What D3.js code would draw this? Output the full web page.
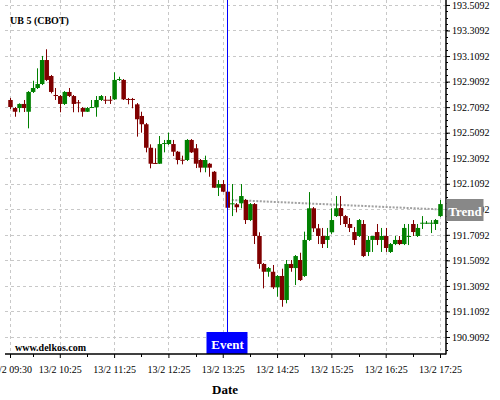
<!DOCTYPE html>
<html><head><meta charset="utf-8">
<script src="https://cdn.jsdelivr.net/npm/d3@7"></script>
<style>body{margin:0;background:#fff}svg{display:block}</style>
</head><body><svg id="c" width="500" height="400"></svg>
<script>
const title = "UB 5 (CBOT)";
const watermark = "www.delkos.com";
const axisTitle = "Date";
const dayPrefix = "13/2";
const startTime = "2024-02-13T09:30";
const barMinutes = 5;

const opens = [192.765,192.702,192.702,192.734,192.673,192.828,192.859,192.890,193.078,192.953,
192.804,192.796,192.734,192.828,192.796,192.747,192.702,192.673,192.705,192.708,
192.765,192.767,192.767,192.770,192.922,192.922,192.773,192.773,192.731,192.640,
192.575,192.391,192.272,192.266,192.423,192.420,192.420,192.360,192.297,192.295,
192.452,192.387,192.295,192.235,192.266,192.203,192.078,192.107,192.047,191.953,
191.948,191.956,191.982,191.825,191.950,191.700,191.481,191.420,191.420,191.298,
191.387,191.199,191.481,191.449,191.512,191.387,191.669,191.917,191.760,191.700,
191.669,191.729,191.856,191.919,191.856,191.794,191.731,191.700,191.794,191.575,
191.669,191.731,191.669,191.700,191.575,191.637,191.669,191.637,191.698,191.794,
191.700,191.799,191.802,191.802,191.794,191.856];
const highs = [192.781,192.710,192.739,192.765,192.835,192.916,193.013,193.110,193.162,192.961,
192.859,192.804,192.835,192.859,192.804,192.765,192.710,192.710,192.765,192.796,
192.804,192.796,192.796,192.982,192.947,192.929,192.781,192.781,192.741,192.673,
192.585,192.418,192.387,192.483,192.452,192.509,192.452,192.366,192.329,192.459,
192.459,192.420,192.303,192.329,192.272,192.209,192.138,192.138,192.052,192.107,
191.958,192.107,191.990,191.958,191.958,191.729,191.488,191.457,191.473,191.394,
191.444,191.512,191.512,191.551,191.569,191.734,192.044,191.927,191.794,191.763,
191.763,191.917,192.013,192.013,191.864,191.841,191.770,191.833,191.825,191.700,
191.700,191.794,191.763,191.763,191.645,191.700,191.700,191.794,191.794,191.825,
191.794,191.856,191.817,191.825,191.833,191.982];
const lows = [192.694,192.634,192.669,192.671,192.543,192.820,192.851,192.882,192.914,192.817,
192.765,192.669,192.726,192.788,192.669,192.669,192.634,192.671,192.702,192.634,
192.757,192.734,192.734,192.765,192.914,192.765,192.731,192.700,192.478,192.509,
192.355,192.230,192.264,192.264,192.355,192.413,192.326,192.261,192.261,192.287,
192.350,192.232,192.199,192.199,192.164,192.076,192.013,192.044,191.915,191.856,
191.885,191.917,191.794,191.817,191.637,191.444,191.290,191.381,191.285,191.225,
191.146,191.173,191.420,191.316,191.348,191.379,191.661,191.731,191.637,191.606,
191.606,191.716,191.849,191.786,191.770,191.731,191.629,191.692,191.535,191.543,
191.575,191.629,191.575,191.575,191.567,191.629,191.629,191.629,191.629,191.700,
191.692,191.755,191.794,191.723,191.747,191.849];
const closes = [192.710,192.673,192.734,192.702,192.828,192.859,192.890,193.078,192.922,192.828,
192.799,192.734,192.828,192.796,192.734,192.741,192.673,192.702,192.710,192.765,
192.796,192.763,192.763,192.922,192.929,192.770,192.767,192.767,192.614,192.575,
192.391,192.266,192.266,192.420,192.428,192.452,192.360,192.295,192.293,192.452,
192.355,192.266,192.235,192.295,192.235,192.078,192.107,192.047,191.921,191.956,
191.925,192.013,191.825,191.950,191.700,191.481,191.420,191.449,191.298,191.387,
191.199,191.481,191.449,191.543,191.355,191.669,191.917,191.760,191.700,191.637,
191.700,191.825,191.917,191.856,191.794,191.763,191.669,191.825,191.543,191.669,
191.700,191.669,191.700,191.606,191.637,191.669,191.637,191.763,191.700,191.731,
191.763,191.804,191.804,191.804,191.825,191.950];

const yTicks = [190.9092,191.1092,191.3092,191.5092,191.7092,191.9092,192.1092,192.3092,192.5092,192.7092,192.9092,193.1092,193.3092,193.5092];
const xTickTimes = ["09:30","10:25","11:25","12:25","13:25","14:25","15:25","16:25","17:25"];
const xMinorTimes = ["09:55","10:55","11:55","12:55","13:55","14:55","15:55","16:55"];
const eventTime = "13:30";
const eventLabel = "Event";
const trendTimes = ["13:35","17:25"];
const trendValues = [191.982, 191.908];
const trendLabel = "Trend";

const FONT = "'Liberation Serif','Times New Roman',Times,serif";
const UP = "#008000", DOWN = "#800000";
const t = s => new Date("2024-02-13T" + s);
const start = new Date(startTime);
const bars = closes.map((c, i) => ({
  date: new Date(start.getTime() + i * barMinutes * 60000),
  o: opens[i], h: highs[i], l: lows[i], c
}));

const svg = d3.select("#c");
const pL = 5, pR = 446, pT = 0, pB = 354;
const x = d3.scaleTime().domain([t("09:30"), t("17:25")]).range([10, 440]);
const y = d3.scaleLinear().domain([190.776, 193.548]).range([pB, pT]);

// grid
const grid = svg.append("g").attr("stroke", "#c8c8c8").attr("stroke-dasharray", "3,3");
grid.selectAll(".h").data(yTicks).join("line")
  .attr("x1", pL).attr("x2", pR).attr("y1", d => Math.round(y(d)) + 0.5).attr("y2", d => Math.round(y(d)) + 0.5);
grid.selectAll(".v").data(xTickTimes).join("line")
  .attr("x1", d => Math.round(x(t(d))) + 0.5).attr("x2", d => Math.round(x(t(d))) + 0.5)
  .attr("y1", pT).attr("y2", pB);

// trend line
svg.append("line")
  .attr("x1", x(t(trendTimes[0]))).attr("y1", y(trendValues[0]))
  .attr("x2", x(t(trendTimes[1]))).attr("y2", y(trendValues[1]))
  .attr("stroke", "#a0a0a0").attr("stroke-width", 2).attr("stroke-dasharray", "2,1.5");

// candles
const bw = 4.5;
const cg = svg.append("g");
cg.selectAll("line").data(bars).join("line")
  .attr("x1", d => Math.round(x(d.date)) + 0.5).attr("x2", d => Math.round(x(d.date)) + 0.5)
  .attr("y1", d => y(d.h)).attr("y2", d => y(d.l))
  .attr("stroke", d => d.c >= d.o ? UP : DOWN).attr("stroke-width", 1);
cg.selectAll("rect").data(bars).join("rect")
  .attr("x", d => x(d.date) - bw / 2 + 0.5)
  .attr("width", bw)
  .attr("y", d => y(Math.max(d.o, d.c)))
  .attr("height", d => Math.max(1, Math.abs(y(d.o) - y(d.c))))
  .attr("fill", d => d.c >= d.o ? UP : DOWN);

// event
const ex = Math.round(x(t(eventTime))) + 0.5;
svg.append("line").attr("x1", ex).attr("x2", ex).attr("y1", pT).attr("y2", 332)
  .attr("stroke", "#0000ff").attr("stroke-width", 1);
svg.append("rect").attr("x", ex - 21).attr("y", 332).attr("width", 41).attr("height", 22).attr("fill", "#0000ff");
svg.append("text").attr("x", ex).attr("y", 349).attr("text-anchor", "middle")
  .attr("fill", "#fff").attr("font-family", FONT).attr("font-weight", "bold").attr("font-size", 13).text(eventLabel);

// right axis
const yAxis = d3.axisRight(y).tickValues(yTicks).tickSize(4).tickPadding(2).tickFormat(d3.format(".4f"));
const ya = svg.append("g").attr("transform", `translate(${pR},0)`).call(yAxis);
ya.select(".domain").remove();
ya.selectAll("text").attr("font-family", FONT).attr("font-size", 10).attr("fill", "#000");
const minorY = d3.range(0, 56).map(i => 190.7592 + i * 0.05).filter(v => v > 190.776 && v < 193.548);
ya.selectAll(".mn").data(minorY).join("line")
  .attr("x1", 0).attr("x2", 2).attr("y1", d => Math.round(y(d)) + 0.5).attr("y2", d => Math.round(y(d)) + 0.5).attr("stroke", "#000");

// bottom axis
const xAxis = d3.axisBottom(x).tickValues(xTickTimes.map(t)).tickSize(4).tickFormat(d => dayPrefix + " " + d3.timeFormat("%H:%M")(d));
const xa = svg.append("g").attr("transform", `translate(0,${pB})`).call(xAxis);
xa.select(".domain").remove();
xa.selectAll("text").attr("font-family", FONT).attr("font-size", 10).attr("fill", "#000").attr("y", 12);
xa.selectAll(".mn").data(xMinorTimes.map(t)).join("line")
  .attr("x1", d => Math.round(x(d)) + 0.5).attr("x2", d => Math.round(x(d)) + 0.5).attr("y1", 0).attr("y2", 3).attr("stroke", "#000");

// axis lines
svg.append("line").attr("x1", pR).attr("x2", pR).attr("y1", pT).attr("y2", pB + 0.5).attr("stroke", "#000").attr("stroke-width", 1.5);
svg.append("line").attr("x1", pL).attr("x2", pR).attr("y1", pB).attr("y2", pB).attr("stroke", "#000").attr("stroke-width", 1.5);

// trend label
svg.append("rect").attr("x", pR + 0.5).attr("y", 199).attr("width", 37).attr("height", 22).attr("fill", "#888");
svg.append("text").attr("x", pR + 19).attr("y", 216).attr("text-anchor", "middle")
  .attr("fill", "#fff").attr("font-family", FONT).attr("font-weight", "bold").attr("font-size", 13).text(trendLabel);

// texts
svg.append("text").attr("x", 10).attr("y", 24).attr("font-family", FONT).attr("font-weight", "bold").attr("font-size", 10).text(title);
svg.append("text").attr("x", 15).attr("y", 351).attr("font-family", FONT).attr("font-weight", "bold").attr("font-size", 10).text(watermark);
svg.append("text").attr("x", 225).attr("y", 394).attr("text-anchor", "middle").attr("font-family", FONT).attr("font-weight", "bold").attr("font-size", 13).text(axisTitle);
</script></body></html>
